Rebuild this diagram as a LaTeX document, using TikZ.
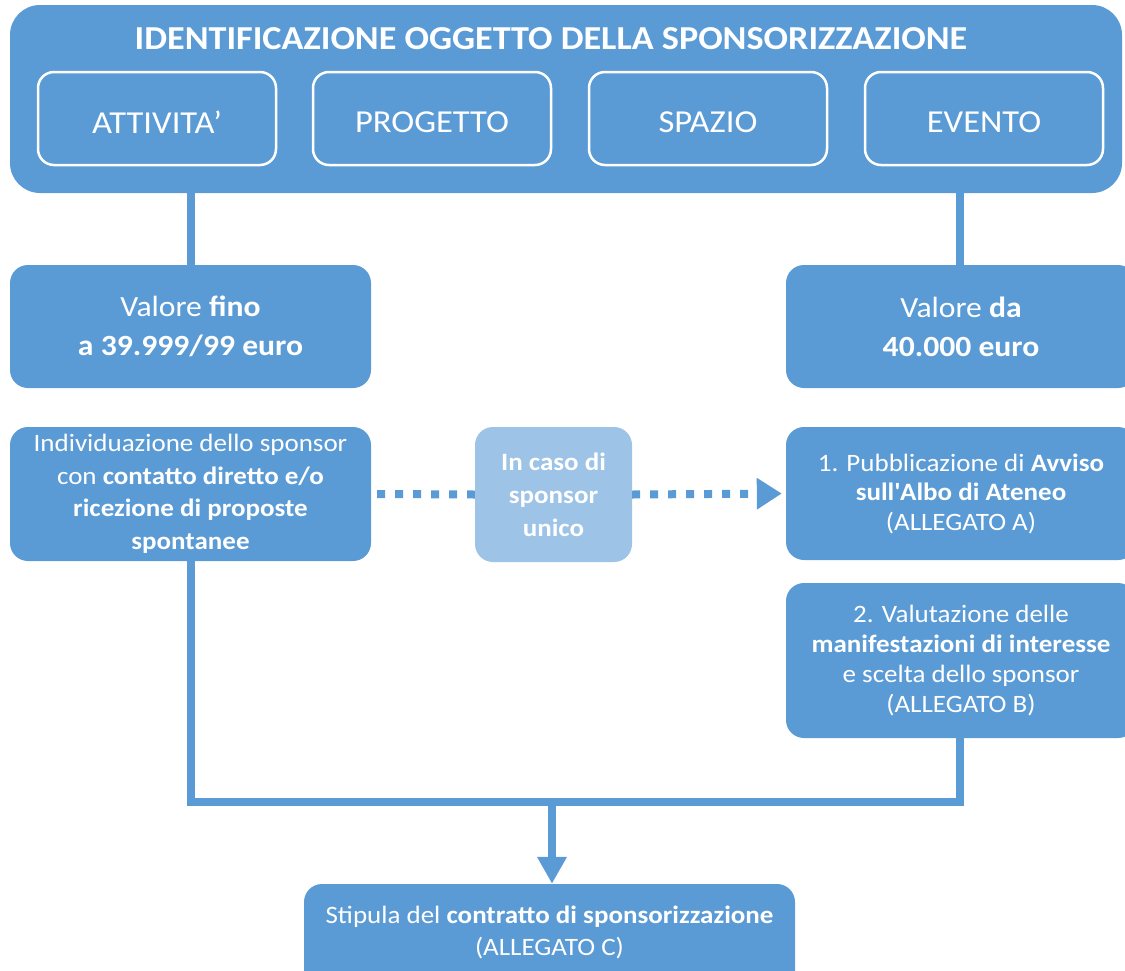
\documentclass[tikz,border=0pt]{standalone}
\usepackage{fontspec}
\setmainfont{Carlito}[FakeStretch=1.08]
\usetikzlibrary{arrows.meta}
\definecolor{blu}{HTML}{5B9BD5}
\definecolor{lblu}{HTML}{9DC3E6}
\begin{document}
\begin{tikzpicture}[x=1pt,y=-1pt,
  blk/.style={fill=blu, rounded corners=18pt, inner sep=0pt, align=center, text=white},
  inbox/.style={draw=white, line width=2.5pt, rounded corners=16pt, minimum width=238pt, minimum height=93pt, inner sep=0pt},
  intext/.style={text=white, inner sep=0pt, font=\fontsize{32}{38}\selectfont},
  wt/.style={text=white, align=center, inner sep=0pt},
  conn/.style={draw=blu, line width=8pt},
  dots/.style={draw=blu, line width=8pt, dash pattern=on 8pt off 10pt}
]
\useasboundingbox (0,0) rectangle (1125,970);
\node[blk, rounded corners=30pt, minimum width=1112pt, minimum height=188pt] (top) at (566,99) {};
\node[wt, font=\bfseries\fontsize{33.5}{38}\selectfont] (title) at (551,39) {IDENTIFICAZIONE OGGETTO DELLA SPONSORIZZAZIONE};
\node[inbox] (att) at (157,118.5) {};
\node[inbox] (pro) at (432,118.5) {};
\node[inbox] (spa) at (708,118.5) {};
\node[inbox] (eve) at (984,118.5) {};
\node[intext] (attT) at (157,122.5) {ATTIVITA’};
\node[intext] (proT) at (432,122.5) {PROGETTO};
\node[intext] (spaT) at (708,122.5) {SPAZIO};
\node[intext] (eveT) at (984,122.5) {EVENTO};

\node[blk, minimum width=361pt, minimum height=123pt, font=\fontsize{29.3}{39}\selectfont] (vf) at (190.5,326.5) {Valore \textbf{fino}\\\textbf{a 39.999/99 euro}};
\node[blk, minimum width=350pt, minimum height=123pt, font=\fontsize{29.3}{39}\selectfont] (vd) at (961,326.5) {Valore \textbf{da}\\\textbf{40.000 euro}};

\node[blk, minimum width=361pt, minimum height=134pt, font=\fontsize{25}{32.5}\selectfont] (ind) at (190.5,494) {Individuazione dello sponsor\\con \textbf{contatto diretto e/o}\\\textbf{ricezione di proposte}\\\textbf{spontanee}};
\node[blk, fill=lblu, minimum width=157pt, minimum height=135pt, font=\bfseries\fontsize{25}{33}\selectfont] (unico) at (553.5,494.5) {In caso di\\sponsor\\unico};
\node[blk, minimum width=350pt, minimum height=133pt, font=\fontsize{25}{29.5}\selectfont] (pub) at (961,493.5) {1. Pubblicazione di \textbf{Avviso}\\\textbf{sull\textquotesingle Albo di Ateneo}\\(ALLEGATO A)};
\node[blk, minimum width=350pt, minimum height=155pt, font=\fontsize{25}{30}\selectfont] (valu) at (961,660.5) {2. Valutazione delle\\\textbf{manifestazioni di interesse}\\e scelta dello sponsor\\(ALLEGATO B)};
\node[blk, minimum width=491pt, minimum height=110pt] (stip) at (549.5,939) {};
\node[wt, font=\fontsize{25}{32}\selectfont] (stipT) at (549.5,932) {Stipula del \textbf{contratto di sponsorizzazione}\\(ALLEGATO C)};

\draw[conn] (top.south -| vf) -- (vf.north);
\coordinate (tr) at (960,193);
\draw[conn] (tr) -- (tr |- vd.north);
\draw[dots] ([xshift=6pt]ind.east) -- (unico.west);
\draw[dots, shorten >=4pt, -{Triangle[length=25pt,width=30pt]}] (unico.east) -- (pub.west);
\coordinate (ml) at (191,802);
\coordinate (mr) at (960,802);
\coordinate (mj) at (552,802);
\draw[conn] (ind.south -| ml) -- (ml) -- (mr) -- (mr |- valu.south);
\draw[conn, -{Triangle[length=27pt,width=28pt]}] (mj) -- (stip.north -| mj);
\end{tikzpicture}
\end{document}
